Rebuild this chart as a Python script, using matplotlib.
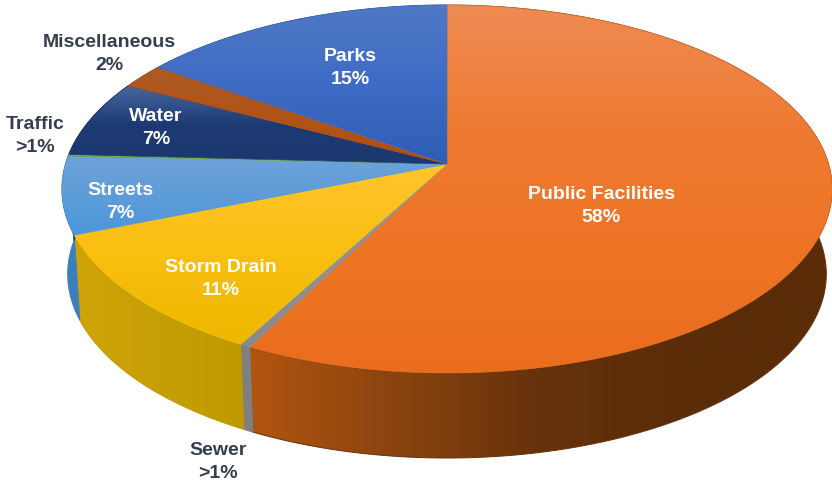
import matplotlib
matplotlib.use("Agg")
import matplotlib.pyplot as plt
from matplotlib.colors import LinearSegmentedColormap
from matplotlib.patches import Polygon
import numpy as np

plt.rcParams["font.family"] = ["Liberation Sans", "DejaVu Sans"]

# clockwise from 12 o'clock
names = ["Public Facilities", "Sewer", "Storm Drain", "Streets", "Traffic", "Water", "Miscellaneous", "Parks"]
shares = [57.5, 0.4, 11.0, 6.8, 0.15, 6.75, 2.2, 15.2]
pct_text = ["58%", ">1%", "11%", "7%", ">1%", "7%", "2%", "15%"]

top_colors = [["#EE8B54", "#EF7B33", "#EE7424", "#EA6D1E"],
              ["#9A9A9A", "#8A8A8A"],
              ["#FFC52E", "#F9BF10", "#EDB800"],
              ["#6FA3D9", "#4C96D8"],
              ["#70AD47", "#70AD47"],
              ["#47689F", "#1D3A75", "#1C3870"],
              ["#AE5A25", "#B24F0C"],
              ["#5079C6", "#3E6CC4", "#2F5DB5"]]
wall_colors = [["#B25510", "#8A430F", "#66320B", "#5A2C08", "#5A2C08"],
               ["#808080", "#808080"],
               ["#CFA408", "#BE9A00"],
               ["#3C7FBE", "#3C7FBE"],
               ["#4F7B32", "#4F7B32"],
               ["#16305E", "#16305E"],
               ["#7E3A08", "#7E3A08"],
               ["#234A8F", "#234A8F"]]

label_pos = [(601, 206), (218, 462), (221, 279), (120, 202), (35, 136), (156, 128), (109, 54), (350, 68)]
label_color = ["white", "#333F50", "white", "white", "#333F50", "white", "#333F50", "white"]

cx, cy = 447, 164
p, k, a = 0.136, 180.6, 381.5
depth = 85


def rim(theta):
    # theta clockwise from the top, perspective view of a flat disc
    s = np.cos(theta)
    c = np.sin(theta)
    w = 1 + p * s
    return cx + a * c / w, cy - k * s / w


def grad_fill(ax, pts, stops, vertical, z, lw=0.7):
    cmap = LinearSegmentedColormap.from_list("g", stops)
    xs, ys = pts[:, 0], pts[:, 1]
    g = np.linspace(0, 1, 256)
    g = g[:, None] if vertical else g[None, :]
    im = ax.imshow(g, cmap=cmap, vmin=0, vmax=1, aspect="auto", origin="upper", zorder=z,
                   extent=(xs.min(), xs.max(), ys.max(), ys.min()), interpolation="bilinear")
    edge = Polygon(pts, closed=True, facecolor="none", edgecolor=stops[len(stops) // 2],
                   linewidth=lw, zorder=z + 0.1)
    ax.add_patch(edge)
    im.set_clip_path(edge)


fig = plt.figure(figsize=(8.32, 4.82), dpi=100)
ax = fig.add_axes([0, 0, 1, 1])

edges = np.cumsum([0] + shares) / sum(shares) * 2 * np.pi

# side walls first, the top faces go over them
for i in range(len(shares)):
    t = np.linspace(edges[i], edges[i + 1], 200)
    x, y = rim(t)
    bx = cx + (x - cx) * 0.985
    by = y + depth
    wall = np.column_stack([np.r_[x, bx[::-1]], np.r_[y, by[::-1]]])
    grad_fill(ax, wall, wall_colors[i], False, 2 + i * 0.2)

for i in range(len(shares)):
    t = np.linspace(edges[i], edges[i + 1], 200)
    x, y = rim(t)
    face = np.column_stack([np.r_[cx, x], np.r_[cy, y]])
    grad_fill(ax, face, top_colors[i], True, 5 + i * 0.2, lw=0.4)

for i in range(len(names)):
    ax.text(label_pos[i][0], label_pos[i][1], names[i] + "\n" + pct_text[i], color=label_color[i],
            fontsize=14, fontweight="bold", ha="center", va="center", linespacing=1.5, zorder=10)

ax.set_xlim(0, 832)
ax.set_ylim(482, 0)
ax.axis("off")
fig.savefig("out.png", dpi=100, facecolor="white")
